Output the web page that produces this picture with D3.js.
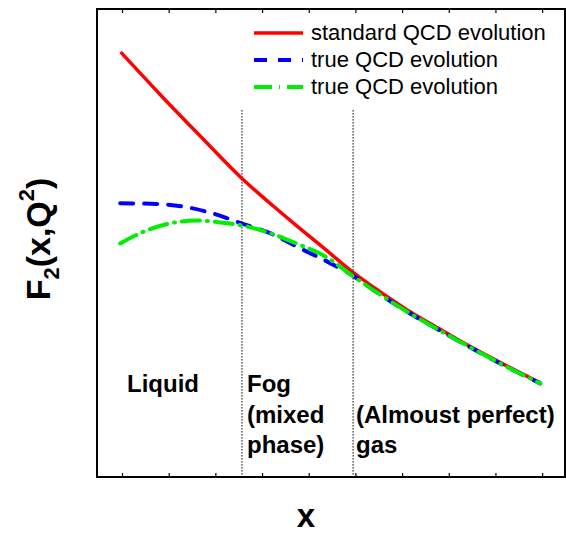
<!DOCTYPE html>
<html>
<head>
<meta charset="utf-8">
<script src="https://cdn.jsdelivr.net/npm/d3@7"></script>
<style>
  body { margin: 0; background: #fff; }
  svg { font-family: "Liberation Sans", Arial, sans-serif; }
</style>
</head>
<body>
<div id="container"></div>
<script>
// curve values (arbitrary units)
var redX   = [-0.03, 0.81, 1.67, 2.57, 3.24, 3.75, 4.35, 4.95, 5.38, 6.11, 6.81, 7.24, 8.25, 8.96]
var redY   = [9.08, 8.18, 7.29, 6.38, 5.79, 5.36, 4.87, 4.37, 4.06, 3.57, 3.16, 2.91, 2.37, 2.01]
var blueX  = [-0.04, 0.81, 1.31, 1.95, 2.53, 3.17, 3.81, 4.46, 4.95, 5.38, 6.11, 6.81, 7.24, 8.25, 8.96]
var blueY  = [5.85, 5.83, 5.78, 5.63, 5.43, 5.21, 4.89, 4.57, 4.30, 4.00, 3.53, 3.13, 2.89, 2.35, 2.00]
var greenX = [-0.04, 0.39, 1.03, 1.60, 2.10, 2.60, 3.17, 3.81, 4.31, 4.95, 5.38, 6.11, 6.81, 7.24, 8.25, 8.96]
var greenY = [4.99, 5.21, 5.42, 5.48, 5.44, 5.37, 5.21, 4.96, 4.74, 4.29, 4.00, 3.53, 3.13, 2.89, 2.35, 2.00]
var phaseLines = [2.57, 4.95]
var xTicks = [0, 1, 2, 3, 4, 5, 6, 7, 8, 9]
var legendNames = ["standard QCD evolution", "true QCD evolution", "true QCD evolution"]

var series = [
  {name: legendNames[0], xs: redX, ys: redY, color: "#ff0000", dash: null, w: 3.5},
  {name: legendNames[1], xs: blueX, ys: blueY, color: "#0000ff", dash: "13,11", w: 4},
  {name: legendNames[2], xs: greenX, ys: greenY, color: "#00ee00", dash: "18,7,1,7", w: 4}
]

var W = 566, H = 539
var pLeft = 97, pRight = 565, pTop = 9, pBottom = 477

var svg = d3.select("#container").append("svg")
  .attr("width", W).attr("height", H)

var x = d3.scaleLinear().domain([-0.536, 9.49]).range([pLeft, pRight])
var y = d3.scaleLinear().domain([0, 10]).range([pBottom, pTop])

// ticks (pointing inward, no labels)
svg.append("g")
  .attr("transform", "translate(0," + pBottom + ")")
  .call(d3.axisBottom(x).tickValues(xTicks).tickSize(-4).tickFormat(""))
  .call(g => g.select(".domain").remove())
  .selectAll("line").attr("stroke", "#000").attr("stroke-width", 1.2)
svg.append("g")
  .attr("transform", "translate(0," + pTop + ")")
  .call(d3.axisTop(x).tickValues(xTicks).tickSize(-4).tickFormat(""))
  .call(g => g.select(".domain").remove())
  .selectAll("line").attr("stroke", "#000").attr("stroke-width", 1.2)

// phase boundaries
svg.selectAll(".phase")
  .data(phaseLines)
  .enter()
  .append("line")
  .attr("x1", d => x(d)).attr("x2", d => x(d))
  .attr("y1", y(7.84)).attr("y2", pBottom)
  .attr("stroke", "#000").attr("stroke-width", 1)
  .attr("stroke-dasharray", "1.5,1.5")

var line = d3.line()
  .x(d => x(d[0])).y(d => y(d[1]))
  .curve(d3.curveMonotoneX)

series.forEach(function(s){
  svg.append("path")
    .datum(d3.zip(s.xs, s.ys))
    .attr("d", line).attr("fill", "none")
    .attr("stroke", s.color).attr("stroke-width", s.w)
    .attr("stroke-dasharray", s.dash)
    .attr("stroke-linecap", s.dash ? "round" : "butt")
})

// frame
svg.append("rect")
  .attr("x", pLeft).attr("y", pTop)
  .attr("width", pRight - pLeft).attr("height", pBottom - pTop)
  .attr("fill", "none").attr("stroke", "#000").attr("stroke-width", 2)

// legend
svg.append("g").selectAll("g")
  .data(series)
  .enter()
  .append("g")
  .attr("transform", (d, i) => "translate(254," + (33 + i * 27) + ")")
  .each(function(d){
    var g = d3.select(this)
    g.append("line")
      .attr("x1", 0).attr("x2", 49).attr("y1", 0).attr("y2", 0)
      .attr("stroke", d.color).attr("stroke-width", d.w)
      .attr("stroke-dasharray", d.dash)
    g.append("text")
      .attr("x", 57).attr("y", 7)
      .attr("font-size", 22)
      .text(d.name)
  })

// phase labels
var labels = [
  {t: "Liquid", x: 127, y: 392},
  {t: "Fog", x: 247, y: 392},
  {t: "(mixed", x: 247, y: 423},
  {t: "phase)", x: 247, y: 453},
  {t: "(Almoust perfect)", x: 356, y: 423},
  {t: "gas", x: 356, y: 453}
]
svg.selectAll(".lab")
  .data(labels)
  .enter()
  .append("text")
  .attr("x", d => d.x).attr("y", d => d.y)
  .attr("font-size", 24).attr("font-weight", "bold")
  .text(d => d.t)

// axis titles
svg.append("text")
  .attr("x", 306).attr("y", 527)
  .attr("text-anchor", "middle")
  .attr("font-size", 33).attr("font-weight", "bold")
  .text("x")

var yl = svg.append("text")
  .attr("transform", "translate(50,239) rotate(-90)")
  .attr("text-anchor", "middle")
  .attr("font-size", 34).attr("font-weight", "bold")
yl.append("tspan").text("F")
yl.append("tspan").attr("font-size", 22).attr("dy", 9).text("2")
yl.append("tspan").attr("dy", -9).text("(x,Q")
yl.append("tspan").attr("font-size", 22).attr("dy", -16).text("2")
yl.append("tspan").attr("dy", 16).text(")")
</script>
</body>
</html>
